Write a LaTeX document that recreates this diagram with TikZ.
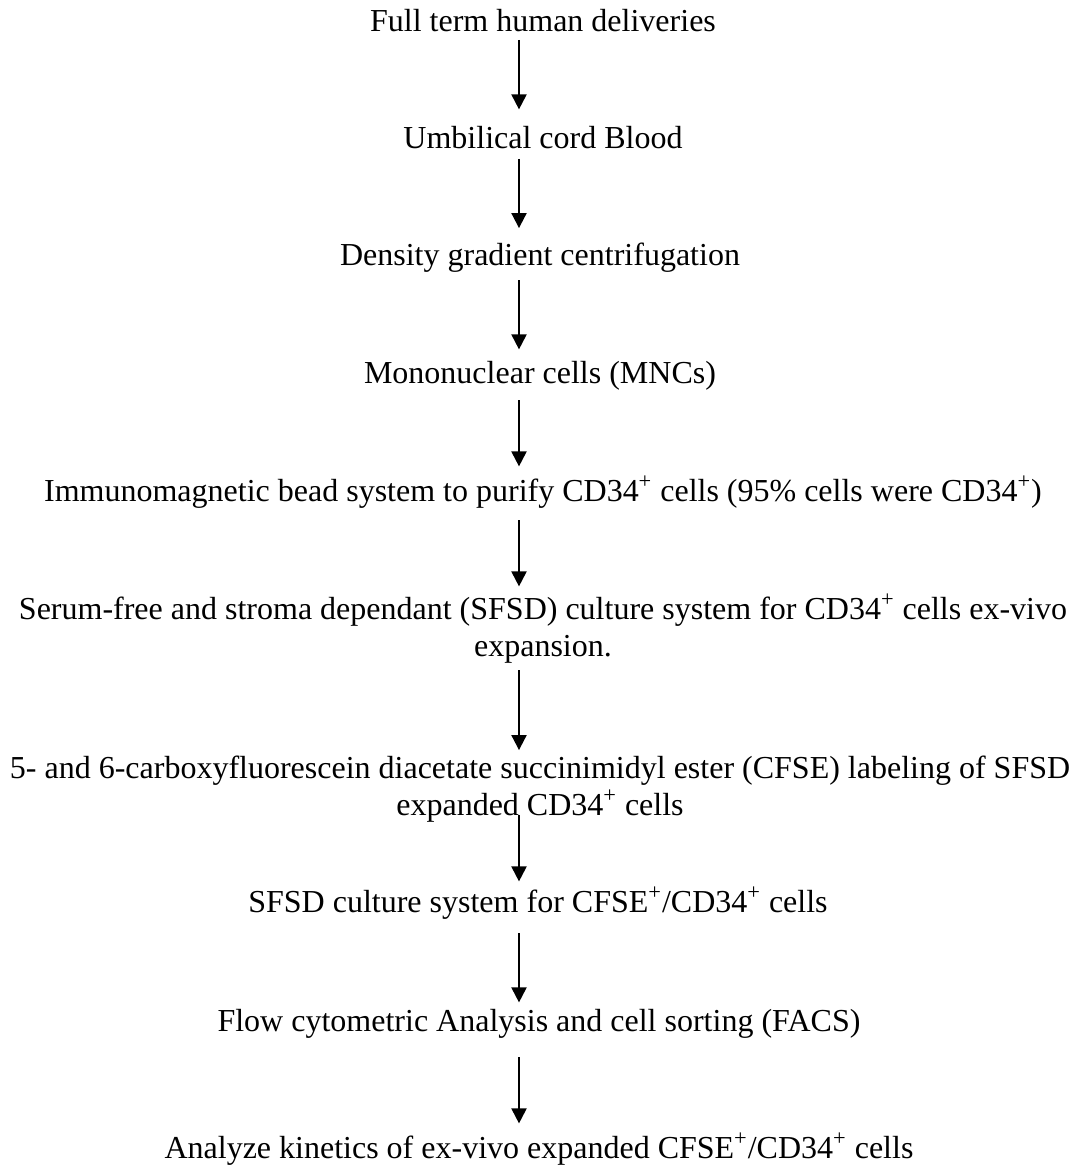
\documentclass[tikz,border=0pt]{standalone}
\usepackage{fontspec}
\setmainfont{Liberation Serif}
\usetikzlibrary{arrows.meta}
\begin{document}
\begin{tikzpicture}[x=0.5pt,y=-0.5pt,
  lbl/.style={inner sep=0pt, anchor=base, align=center,
    font=\fontsize{16}{18.5}\selectfont},
  arr/.style={-{Triangle[width=7.5pt,length=7.5pt]}, line width=1pt}]
\useasboundingbox (0,0) rectangle (1078,1166);
\coordinate (ax) at (519,0);
\node[lbl] (n1) at (543,32) {Full term human deliveries};
\node[lbl] (n2) at (543,149) {Umbilical cord Blood};
\node[lbl] (n3) at (540,265) {Density gradient centrifugation};
\node[lbl] (n4) at (540,383) {Mononuclear cells (MNCs)};
\node[lbl] (n5) at (543,501) {Immunomagnetic bead system to purify CD34\textsuperscript{+} cells (95\% cells were CD34\textsuperscript{+})};
\node[lbl] (n6) at (543,656) {Serum-free and stroma dependant (SFSD) culture system for CD34\textsuperscript{+} cells ex-vivo\\expansion.};
\node[lbl] (n7) at (540,815) {5- and 6-carboxyfluorescein diacetate succinimidyl ester (CFSE) labeling of SFSD\\expanded CD34\textsuperscript{+} cells};
\node[lbl] (n8) at (538,912) {SFSD culture system for CFSE\textsuperscript{+}/CD34\textsuperscript{+} cells};
\node[lbl] (n9) at (539,1031) {Flow cytometric Analysis and cell sorting (FACS)};
\node[lbl] (n10) at (539,1158) {Analyze kinetics of ex-vivo expanded CFSE\textsuperscript{+}/CD34\textsuperscript{+} cells};
\draw[arr] ([yshift=-4pt]n1.base -| ax) -- ([yshift=8.5pt]n2.north -| ax);
\draw[arr] ([yshift=-5pt]n2.base -| ax) -- ([yshift=7pt]n3.north -| ax);
\draw[arr] ([yshift=-7.5pt]n3.base -| ax) -- ([yshift=5.5pt]n4.north -| ax);
\draw[arr] ([yshift=-8.5pt]n4.base -| ax) -- ([yshift=4.5pt]n5.north -| ax);
\draw[arr] ([yshift=-9.5pt]n5.base -| ax) -- ([yshift=3.5pt]n6.north -| ax);
\draw[arr] ([yshift=-7pt]n6.base -| ax) -- ([yshift=2.5pt]n7.north -| ax);
\draw[arr] ([yshift=0pt]n7.base -| ax) -- ([yshift=2.5pt]n8.north -| ax);
\draw[arr] ([yshift=-10.5pt]n8.base -| ax) -- ([yshift=3pt]n9.north -| ax);
\draw[arr] ([yshift=-13pt]n9.base -| ax) -- ([yshift=4.5pt]n10.north -| ax);
\end{tikzpicture}
\end{document}
